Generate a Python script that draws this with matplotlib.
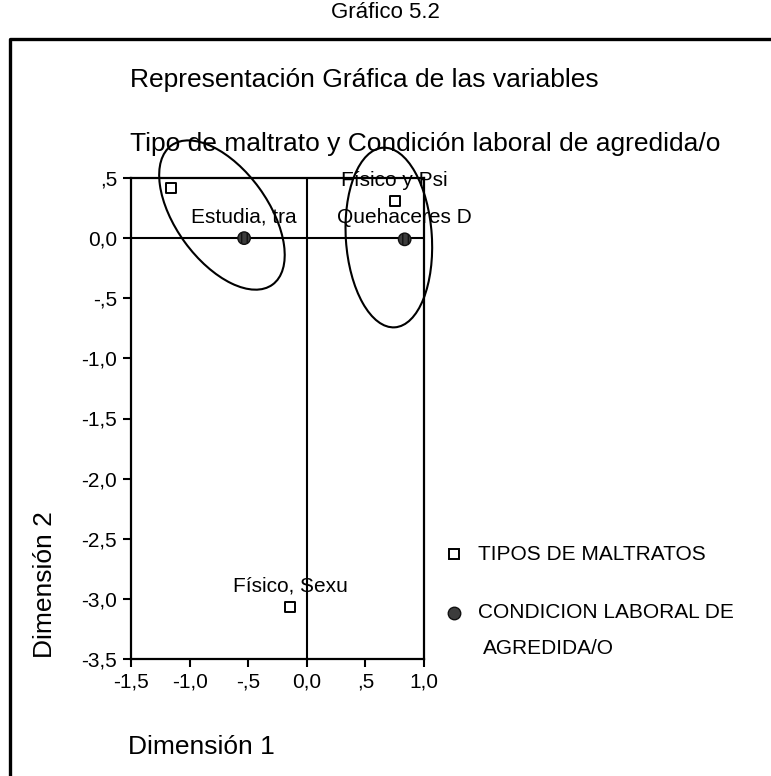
import matplotlib

matplotlib.use("Agg")
import matplotlib.pyplot as plt
from matplotlib.lines import Line2D
from matplotlib.patches import Ellipse
from matplotlib.ticker import FuncFormatter
from matplotlib.transforms import ScaledTranslation

plt.rcParams["font.family"] = ["Liberation Sans", "DejaVu Sans"]

# category points (dimension 1, dimension 2)
tipo_labels = ["", "Físico y Psi", "Físico, Sexu"]
tipo_dim1 = [-1.16, 0.75, -0.14]
tipo_dim2 = [0.42, 0.31, -3.07]

cond_labels = ["Estudia, tra", "Quehaceres D"]
cond_dim1 = [-0.535, 0.835]
cond_dim2 = [0.0, -0.01]

x_ticks = [-1.5, -1.0, -0.5, 0.0, 0.5, 1.0]
y_ticks = [0.5, 0.0, -0.5, -1.0, -1.5, -2.0, -2.5, -3.0, -3.5]

W, H = 771, 776
fig = plt.figure(figsize=(W / 100, H / 100), dpi=100)
ax = fig.add_axes([131 / W, 1 - 659 / H, (424 - 131) / W, (659 - 178) / H])


def spss_fmt(v, _pos=None):
    s = f"{v:.1f}".replace(".", ",")
    if s.startswith("0,") and v != 0:
        s = s[1:]
    if s.startswith("-0,"):
        s = "-" + s[2:]
    return s


ax.set_xlim(-1.5, 1.0)
ax.set_ylim(-3.5, 0.5)
ax.set_xticks(x_ticks)
ax.set_yticks(y_ticks)
ax.xaxis.set_major_formatter(FuncFormatter(spss_fmt))
ax.yaxis.set_major_formatter(FuncFormatter(spss_fmt))
ax.tick_params(direction="out", length=6, width=1.5, labelsize=15, pad=4)
for sp in ax.spines.values():
    sp.set_linewidth(1.6)

ax.axhline(0, color="black", lw=1.5, zorder=1)
ax.axvline(0, color="black", lw=1.5, zorder=1)

ax.scatter(tipo_dim1, tipo_dim2, marker="s", s=42, facecolor="white",
           edgecolor="black", linewidth=1.4, zorder=3)
ax.scatter(cond_dim1, cond_dim2, marker="o", s=80, facecolor="#3c3c3c",
           edgecolor="#111111", linewidth=1.0, hatch="|||", zorder=3)

for lab, x, y in zip(tipo_labels, tipo_dim1, tipo_dim2):
    if lab:
        ax.annotate(lab, (x, y), xytext=(0, 15), textcoords="offset points",
                    ha="center", va="center", fontsize=15, zorder=4)
for lab, x, y in zip(cond_labels, cond_dim1, cond_dim2):
    ax.annotate(lab, (x, y), xytext=(0, 15.5), textcoords="offset points",
                ha="center", va="center", fontsize=15, zorder=4)

# grouping ellipses (size in inches, centred on a data point)
for cx, cy, w, h, ang in [(-0.724, 0.192, 1.72, 0.92, -54),
                          (0.70, 0.005, 1.80, 0.86, 93.8)]:
    tr = fig.dpi_scale_trans + ScaledTranslation(cx, cy, ax.transData)
    ax.add_patch(Ellipse((0, 0), w, h, angle=ang, transform=tr, fill=False,
                         edgecolor="black", lw=1.5, clip_on=False, zorder=2))

fig.text(128 / W, 1 - 747 / H, "Dimensión 1", fontsize=19, ha="left",
         va="center")
fig.text(45 / W, 1 - 658 / H, "Dimensión 2", fontsize=19, rotation=90,
         ha="center", va="bottom")

fig.text(0.5, 1 - 13 / H, "Gráfico 5.2", fontsize=16, ha="center",
         va="center")
fig.text(130 / W, 1 - 80 / H, "Representación Gráfica de las variables",
         fontsize=19, ha="left", va="center")
fig.text(130 / W, 1 - 144 / H,
         "Tipo de maltrato y Condición laboral de agredida/o",
         fontsize=19, ha="left", va="center")

# outer frame
fig.add_artist(Line2D([10 / W, 10 / W, 1.0], [0.0, 1 - 39 / H, 1 - 39 / H],
                      transform=fig.transFigure, color="black", lw=2.4))

# legend
fig.add_artist(Line2D([454 / W], [1 - 554 / H], transform=fig.transFigure,
                      marker="s", ms=6.5, mfc="white", mec="black", mew=1.4,
                      ls="none"))
fig.add_artist(Line2D([454 / W], [1 - 613 / H], transform=fig.transFigure,
                      marker="o", ms=9, mfc="#3c3c3c", mec="#111111",
                      mew=1.0, ls="none"))
fig.text(478 / W, 1 - 554 / H, "TIPOS DE MALTRATOS", fontsize=15,
         ha="left", va="center")
fig.text(478 / W, 1 - 613 / H, "CONDICION LABORAL DE", fontsize=15,
         ha="left", va="center")
fig.text(483 / W, 1 - 648 / H, "AGREDIDA/O", fontsize=15, ha="left",
         va="center")

fig.savefig("out.png", dpi=100)
